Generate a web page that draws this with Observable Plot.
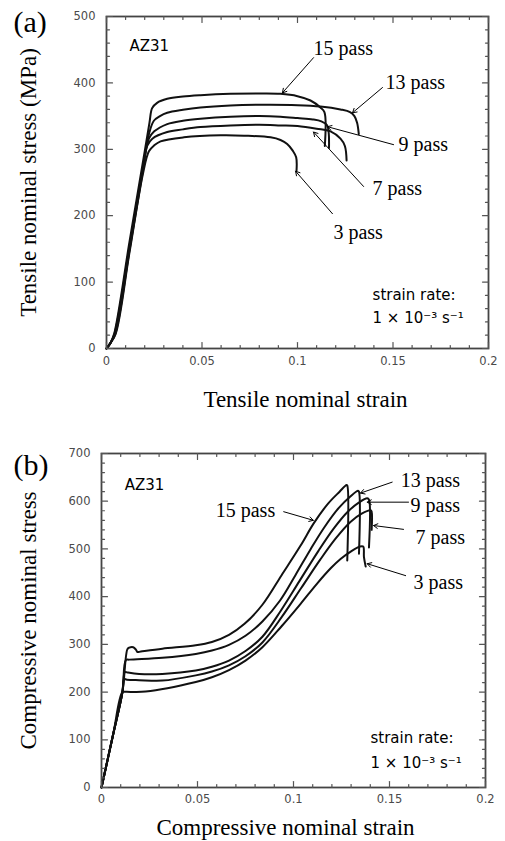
<!DOCTYPE html>
<html><head><meta charset="utf-8">
<script src="https://cdn.jsdelivr.net/npm/d3@7"></script>
<script src="https://cdn.jsdelivr.net/npm/@observablehq/plot@0.6"></script>
<style>body{margin:0;background:#fff}svg{display:block}</style>
</head><body><div id="chart"></div>
<script>
// ---------- data: [strain, stress] ----------
const tensile15 = [[0,0],[0.002,8],[0.004,22],[0.012,160],[0.02,297],[0.0225,340],[0.0239,362],[0.0265,370],[0.0318,376],[0.04,379.5],[0.0492,381.5],[0.0649,383.5],[0.08,384],[0.0911,383.5],[0.1,380],[0.1068,373.5],[0.112,363],[0.1141,356],[0.1143,305]];
const tensile13 = [[0,0],[0.002,8],[0.0042,22],[0.012,153],[0.019,272],[0.0225,326],[0.0248,343],[0.028,350],[0.0318,355],[0.04,359.5],[0.0492,363],[0.0649,366],[0.08,367],[0.1,366.5],[0.112,364.5],[0.1225,360],[0.1275,356],[0.1298,350],[0.1312,340],[0.1321,323]];
const tensile9 = [[0,0],[0.002,8],[0.0044,22],[0.012,150],[0.019,270],[0.0222,316],[0.025,327],[0.0318,338],[0.04,343],[0.0492,346],[0.0649,349],[0.08,350],[0.0911,349],[0.1,347],[0.108,345],[0.1125,342],[0.1155,336],[0.1163,326],[0.1165,302]];
const tensile7 = [[0,0],[0.002,8],[0.0046,22],[0.012,147],[0.019,267],[0.0213,305],[0.024,316],[0.0318,326],[0.04,330],[0.0492,333.5],[0.0649,336],[0.08,337],[0.0911,336],[0.1,335],[0.11,331],[0.1173,327],[0.1225,316],[0.1248,305],[0.1257,283]];
const tensile3 = [[0,0],[0.002,8],[0.0048,22],[0.012,144],[0.019,262],[0.0222,297],[0.025,306],[0.0283,312],[0.0405,318],[0.0597,321],[0.072,320.5],[0.0859,318],[0.0911,314],[0.0946,308],[0.0975,298],[0.0993,288],[0.0995,268]];

const comp15 = [[0,0],[0.006,110],[0.0109,200],[0.0135,290],[0.0144,293],[0.0165,294],[0.0179,289],[0.0187,284],[0.0205,285],[0.0317,291],[0.0491,298],[0.0575,305],[0.0664,320],[0.0745,343],[0.0838,383],[0.0938,445],[0.1037,507],[0.1106,554],[0.118,595],[0.124,620],[0.1276,634],[0.128,633],[0.128,476]];
const comp13 = [[0,0],[0.006,110],[0.0109,200],[0.0127,267],[0.0145,268],[0.0317,272],[0.0491,280],[0.0575,287],[0.0664,299],[0.075,318],[0.0838,348],[0.093,392],[0.101,445],[0.109,500],[0.116,545],[0.1236,586],[0.1296,610],[0.1336,622],[0.1341,620],[0.1341,490]];
const comp9 = [[0,0],[0.006,110],[0.0109,200],[0.0122,242],[0.0135,241],[0.0196,238],[0.0317,238],[0.0491,245],[0.0575,253],[0.0664,266],[0.075,286],[0.0838,316],[0.0933,370],[0.103,432],[0.113,496],[0.121,543],[0.128,577],[0.134,597],[0.1384,606],[0.1393,603],[0.1393,503]];
const comp7 = [[0,0],[0.006,110],[0.0109,200],[0.0118,227],[0.0132,226],[0.0196,225],[0.0317,224],[0.0491,235],[0.0575,243],[0.0664,256],[0.075,275],[0.0838,304],[0.094,358],[0.104,418],[0.114,478],[0.122,522],[0.1295,556],[0.1355,574],[0.1402,581],[0.1407,578],[0.1407,540]];
const comp3 = [[0,0],[0.006,110],[0.0109,200],[0.0125,200.5],[0.023,201],[0.0491,221],[0.0575,231],[0.0664,246],[0.075,266],[0.0838,294],[0.0938,338],[0.1037,385],[0.1124,428],[0.1195,460],[0.1245,479],[0.13,495],[0.1346,505],[0.1363,505],[0.1367,483],[0.1376,463]];

const passNames = ["15 pass","13 pass","9 pass","7 pass","3 pass"];
// annotation: label position [strain, stress], arrow from, arrow to
const tensileLabelPos = [[0.1084,452],[0.1461,400],[0.1529,307],[0.1393,241],[0.1188,175]];
const tensileArrowFrom = [[0.1084,438],[0.1445,393],[0.1503,307],[0.1346,244],[0.1183,203]];
const tensileArrowTo = [[0.0921,385],[0.1288,355],[0.1157,334],[0.1084,326],[0.0990,267]];
const compLabelPos = [[0.0595,580],[0.1558,643],[0.161,591],[0.1636,524],[0.1625,430]];
const compArrowFrom = [[0.0949,578],[0.1514,640],[0.1599,598],[0.1573,541],[0.1584,444]];
const compArrowTo = [[0.1103,560],[0.1349,617],[0.1384,598],[0.1417,549],[0.1384,469]];

const xTicks = [0, 0.05, 0.1, 0.15, 0.2];
const tensileYTicks = [0, 100, 200, 300, 400, 500];
const compYTicks = [0, 100, 200, 300, 400, 500, 600, 700];

const serif = "Liberation Serif, Times New Roman, serif";
const sans = "DejaVu Sans, sans-serif";
const tickShape = {draw(ctx, l) { ctx.moveTo(0, 0); ctx.lineTo(0, -l); }};

function rows(series) {
  return series.flatMap(([name, pts]) => pts.map(([s, e]) => ({name, s, e})));
}
function inwardTicks(xMaj, xMin, yMaj, yMin) {
  const base = {anchor: "start", shape: tickShape, stroke: "#555", strokeWidth: 1.2};
  const marks = [];
  for (const [arr, len] of [[xMaj, 6], [xMin, 3]]) {
    marks.push(Plot.vector(arr, {...base, x: d => d, frameAnchor: "bottom", length: len, rotate: 0}));
    marks.push(Plot.vector(arr, {...base, x: d => d, frameAnchor: "top", length: len, rotate: 180}));
  }
  for (const [arr, len] of [[yMaj, 6], [yMin, 3]]) {
    marks.push(Plot.vector(arr, {...base, y: d => d, frameAnchor: "left", length: len, rotate: 90}));
    marks.push(Plot.vector(arr, {...base, y: d => d, frameAnchor: "right", length: len, rotate: -90}));
  }
  return marks;
}

function panel(cfg) {
  const annot = passNames.map((t, i) => ({t, x: cfg.labelPos[i][0], y: cfg.labelPos[i][1],
    x1: cfg.from[i][0], y1: cfg.from[i][1], x2: cfg.to[i][0], y2: cfg.to[i][1]}));
  const xMinor = d3.range(0, 0.2001, 0.01).filter(v => Math.abs(v / 0.05 - Math.round(v / 0.05)) > 1e-6);
  const yMinor = d3.range(0, cfg.yMax + 0.1, 20).filter(v => v % 100 !== 0);
  return Plot.plot({
    width: 505, height: cfg.height,
    marginTop: cfg.mt, marginBottom: cfg.mb, marginLeft: cfg.ml, marginRight: cfg.mr,
    x: {domain: [0, 0.2]},
    y: {domain: [0, cfg.yMax]},
    style: {background: "#fff"},
    marks: [
      Plot.line(rows(cfg.series), {x: "s", y: "e", z: "name", stroke: "#111", strokeWidth: 2, curve: "catmull-rom"}),
      Plot.frame({stroke: "#444", strokeWidth: 1.8}),
      ...inwardTicks(xTicks, xMinor, cfg.yTicks, yMinor),
      Plot.axisX({ticks: xTicks, tickSize: 0, tickPadding: cfg.xPad, label: null, fontSize: 11.5, fontFamily: sans, fill: "#4a4a4a", tickFormat: d3.format("~g")}),
      Plot.axisY({ticks: cfg.yTicks, tickSize: 0, tickPadding: 11, label: null, fontSize: 11.5, fontFamily: sans, fill: "#4a4a4a"}),
      Plot.arrow(annot, {x1: "x1", y1: "y1", x2: "x2", y2: "y2", stroke: "#000", strokeWidth: 1, headLength: 7, bend: false}),
      Plot.text(annot, {x: "x", y: "y", text: "t", textAnchor: "start", fontFamily: serif, fontSize: 20, fill: "#000"}),
      Plot.text(["AZ31"], {x: cfg.az[0], y: cfg.az[1], textAnchor: "start", fontFamily: sans, fontSize: 15, fill: "#000"}),
      Plot.text(["strain rate:", "1 × 10⁻³ s⁻¹"], {x: cfg.sr[0], y: (d, i) => cfg.sr[1][i], textAnchor: "start", fontFamily: sans, fontSize: 15, fill: "#000"}),
      Plot.text([cfg.tag], {frameAnchor: "top-left", dx: cfg.tagD[0], dy: cfg.tagD[1], textAnchor: "start", lineAnchor: "middle", fontFamily: serif, fontSize: 30, fill: "#000"}),
      Plot.text([cfg.yLabel], {frameAnchor: "left", rotate: -90, dx: cfg.yLabD, textAnchor: "middle", lineAnchor: "middle", fontFamily: serif, fontSize: 23, fill: "#000"}),
      Plot.text([cfg.xLabel], {frameAnchor: "bottom", dx: cfg.xLabD[0], dy: cfg.xLabD[1], textAnchor: "middle", lineAnchor: "middle", fontFamily: serif, fontSize: 23, fill: "#000"})
    ]
  });
}

const panelA = panel({
  height: 420, mt: 16, mb: 72, ml: 106, mr: 17, yMax: 500, yTicks: tensileYTicks, xPad: 8,
  series: [["15", tensile15], ["13", tensile13], ["9", tensile9], ["7", tensile7], ["3", tensile3]],
  labelPos: tensileLabelPos, from: tensileArrowFrom, to: tensileArrowTo,
  az: [0.012, 456], sr: [0.1393, [80, 45]],
  tag: "(a)", tagD: [-93, 6], yLabel: "Tensile nominal stress (MPa)", yLabD: -78,
  xLabel: "Tensile nominal strain", xLabD: [8, 51]
});
const panelB = panel({
  height: 421, mt: 33, mb: 54, ml: 101, mr: 20, yMax: 700, yTicks: compYTicks, xPad: 7,
  series: [["15", comp15], ["13", comp13], ["9", comp9], ["7", comp7], ["3", comp3]],
  labelPos: compLabelPos, from: compArrowFrom, to: compArrowTo,
  az: [0.0121, 633], sr: [0.1401, [103, 50]],
  tag: "(b)", tagD: [-88, 12], yLabel: "Compressive nominal stress", yLabD: -73,
  xLabel: "Compressive nominal strain", xLabD: [-8, 40]
});
document.getElementById("chart").append(panelA, panelB);
</script>
</body></html>
